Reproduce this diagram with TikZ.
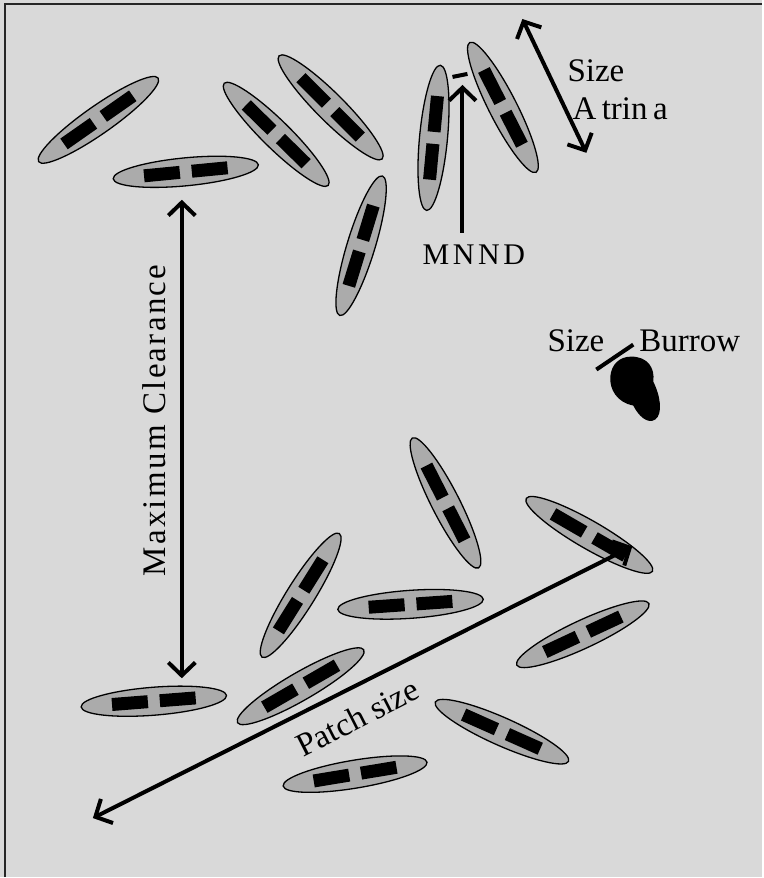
\documentclass[tikz,border=0pt]{standalone}
\usepackage{fontspec}
\setmainfont{Liberation Serif}
\newfontfamily\wide[LetterSpace=12]{Liberation Serif}
\newfontfamily\spread[LetterSpace=7]{Liberation Serif}
\usetikzlibrary{arrows.meta}
\definecolor{paper}{gray}{0.85}
\definecolor{shell}{gray}{0.67}
\tikzset{
  atrina/.pic={
    \filldraw[fill=shell,draw=black,line width=1.3pt] (0,0) ellipse [x radius=73,y radius=14];
    \fill (-42,-6.5) rectangle (-6,6.5);
    \fill (6,-6.5) rectangle (42,6.5);
  },
  barb/.tip={Straight Barb[length=13pt,width=27pt]},
  measure/.style={line width=4pt,barb-barb},
  lbl/.style={font=\fontsize{33}{36}\selectfont,inner sep=0pt},
}
\begin{document}
\begin{tikzpicture}[x=1pt,y=-1pt]
  \fill[paper] (0,0) rectangle (763,878);
  \draw[line width=2pt,black!85] (5,878) -- (5,4) -- (763,4);
  % upper patch
  \pic (a1) at (98.5,120) [rotate=35] {atrina};
  \pic (a2) at (186,172) [rotate=5.5] {atrina};
  \pic (a3) at (276.5,134.5) [rotate=-44.5] {atrina};
  \pic (a4) at (331,107.5) [rotate=-45] {atrina};
  \pic (a5) at (361.5,246) [rotate=73] {atrina};
  \pic (a6) at (434,138) [rotate=84.6] {atrina};
  \pic (a7) at (503.5,107.5) [rotate=-63] {atrina};
  % lower patch
  \pic (b1) at (154,702) [rotate=4.5] {atrina};
  \pic (b2) at (301,596) [rotate=58] {atrina};
  \pic (b3) at (411,605) [rotate=4] {atrina};
  \pic (b4) at (301,687) [rotate=30] {atrina};
  \pic (b5) at (355.5,775) [rotate=9.4] {atrina};
  \pic (b6) at (446,503.5) [rotate=-63] {atrina};
  \pic (b7) at (590,535.5) [rotate=-30] {atrina};
  \pic (b8) at (583.5,635) [rotate=25] {atrina};
  \pic (b9) at (502.5,732.5) [rotate=-24] {atrina};
  % burrow
  \fill (632,357) .. controls (648,357) and (656,368) .. (654,382)
    .. controls (661,396) and (664,414) .. (656,420)
    .. controls (648,425) and (639,416) .. (634,406)
    .. controls (618,403) and (610,390) .. (611,377)
    .. controls (612,365) and (620,357) .. (632,357);
  \draw[line width=4pt] (597,370) -- (634,345);
  \node[lbl,anchor=base west] (sizeb) at (548,352) {Size};
  \node[lbl,anchor=base west] (burrow) at (640,352) {Burrow};
  % atrina size
  \coordinate (atop) at (523,19);
  \coordinate (abot) at (587,153);
  \draw[measure] (atop) -- (abot);
  \node[lbl,anchor=base west] (sizea) at (568,82) {Size};
  \node[lbl,anchor=base west] (atrina) at (573,120) {A\,trin\,a};
  % nearest neighbour distance
  \draw[line width=4pt] (453,77) -- (468,74);
  \node[lbl,anchor=base west,font=\wide\fontsize{30}{34}\selectfont] (mnnd) at (423,265) {MNND};
  \coordinate (mfoot) at (463,233);
  \coordinate (mtip) at (463,85);
  \draw[line width=4pt,-barb] (mfoot) -- (mtip);
  % clearance
  \coordinate (ctop) at (182,200);
  \coordinate (cbot) at (182,679);
  \draw[measure] (ctop) -- (cbot);
  \node[lbl,font=\spread\fontsize{33}{36}\selectfont,rotate=90] (clear) at (154,421) {Maximum Clearance};
  % patch size
  \coordinate (pleft) at (93,819);
  \coordinate (pright) at (633,547);
  \draw[measure] (pleft) -- (pright);
  \node[lbl,rotate=27] (patch) at (358,718) {Patch size};
\end{tikzpicture}
\end{document}
